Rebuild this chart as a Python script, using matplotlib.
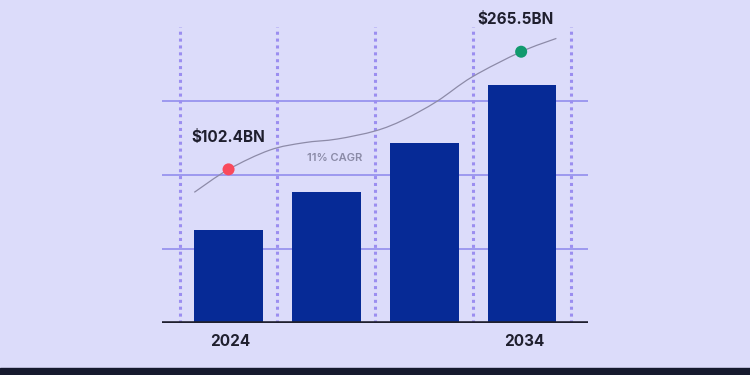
import matplotlib.pyplot as plt
import numpy as np
from matplotlib.path import Path
from matplotlib.patches import PathPatch

# bar heights in grid units (gridlines sit at 1, 2, 3)
years = ["2024", "", "", "2034"]
bar_values = [1.26, 1.77, 2.43, 3.22]

# trend curve (x in bar slots, y in grid units)
curve_x = [-0.35, 0.0, 0.42, 0.77, 1.11, 1.50, 1.79, 2.13, 2.49, 2.99, 3.35]
curve_y = [1.77, 2.08, 2.34, 2.44, 2.49, 2.60, 2.75, 3.00, 3.33, 3.67, 3.85]

marker_x = [0.0, 2.99]
marker_y = [2.08, 3.67]
marker_labels = ["$102.4BN", "$265.5BN"]
marker_colors = ["#f94a5c", "#119a6e"]

bg = "#dcdcfa"
bar_color = "#062a96"
grid_color = "#9893ee"
text_dark = "#1f1f2e"

fig = plt.figure(figsize=(7.5, 3.75), dpi=100, facecolor=bg)
ax = fig.add_axes([0.216, 0.1379, 0.5676, 0.8621])
ax.set_facecolor(bg)

x = np.arange(len(bar_values))

# horizontal gridlines
for gy in [1, 2, 3]:
    ax.axhline(gy, color=grid_color, lw=1.3, zorder=1)

# vertical dotted lines between slots
for vx in np.arange(-0.5, len(bar_values), 1.0):
    ax.plot([vx, vx], [0, 4.0], color="#9b8ef0", lw=2.2,
            dashes=(1, 1.25), dash_capstyle="butt", zorder=1)

ax.bar(x, bar_values, width=0.70, color=bar_color, zorder=2)

# baseline
ax.axhline(0, color=text_dark, lw=2.6, zorder=4)

# smooth trend line: Catmull-Rom through the points, drawn as cubic Beziers
pts = np.column_stack([curve_x, curve_y])
verts = [pts[0]]
codes = [Path.MOVETO]
for i in range(len(pts) - 1):
    p0 = pts[i - 1] if i > 0 else pts[i]
    p1, p2 = pts[i], pts[i + 1]
    p3 = pts[i + 2] if i + 2 < len(pts) else pts[i + 1]
    verts += [p1 + (p2 - p0) / 6, p2 - (p3 - p1) / 6, p2]
    codes += [Path.CURVE4] * 3
ax.add_patch(PathPatch(Path(verts, codes), fill=False, edgecolor="#8d8ba8",
                       lw=0.9, zorder=3))

ax.scatter(marker_x, marker_y, s=75, c=marker_colors, zorder=5, edgecolors="none")

ax.text(0.0, 2.51, marker_labels[0], ha="center", va="center",
        fontsize=11, fontweight="bold", color=text_dark, family="Inter")
ax.text(2.93, 4.11, marker_labels[1], ha="center", va="center",
        fontsize=11, fontweight="bold", color=text_dark, family="Inter")
ax.text(1.08, 2.24, "11% CAGR", ha="center", va="center",
        fontsize=8, fontweight="semibold", color="#8a8aa6", family="Inter")

for xi, lab in zip([0.02, 3.02], ["2024", "2034"]):
    ax.text(xi, -0.25, lab, ha="center", va="center",
            fontsize=11, fontweight="bold", color=text_dark, family="Inter")

ax.set_xlim(-0.68, 3.67)
ax.set_ylim(0, 4.369)
ax.axis("off")

# dark footer strip
fig.patches.append(plt.Rectangle((0, 0), 1, 7 / 375, transform=fig.transFigure,
                                 color="#161a2e", zorder=0))

fig.savefig("out.png", dpi=100, facecolor=bg)
